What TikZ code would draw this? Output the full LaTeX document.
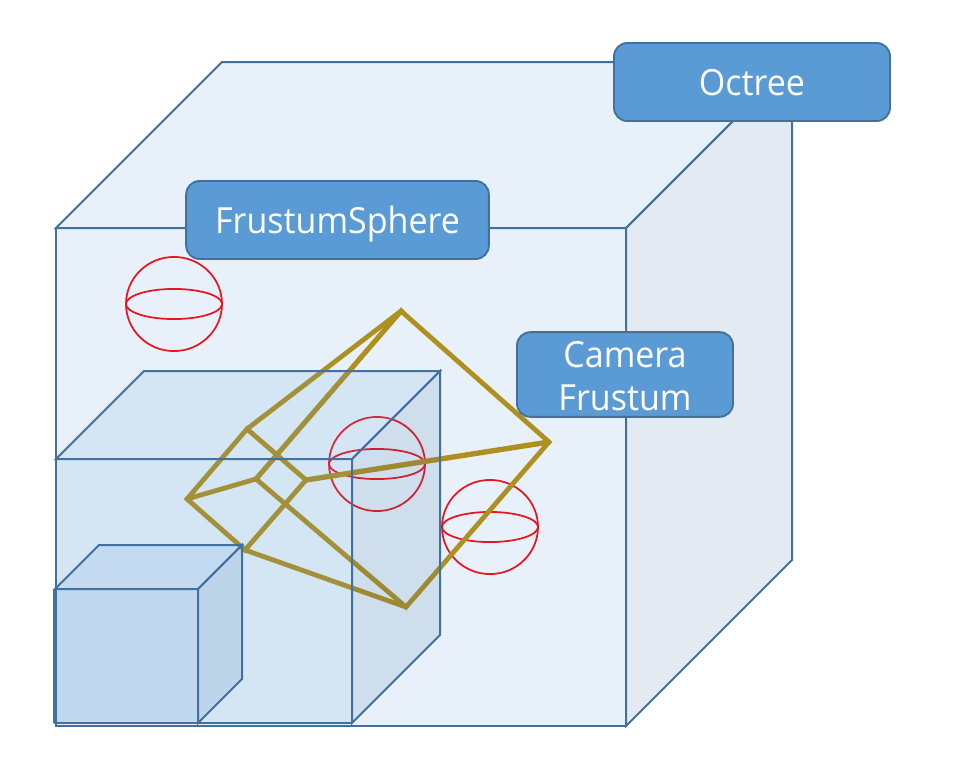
\documentclass[tikz,border=0pt]{standalone}
\usepackage{fontspec}
\setmainfont{Open Sans}[FakeStretch=0.945]
\usetikzlibrary{positioning}
\definecolor{steel}{HTML}{41719C}
\definecolor{sky}{HTML}{5B9BD5}
\definecolor{shade}{HTML}{3769A2}
\definecolor{olive}{HTML}{AE9020}
\definecolor{ballred}{HTML}{E8141E}
\tikzset{
  edge/.style={draw=steel,line width=1.5pt,line join=miter},
  face/.style={edge,fill=#1,fill opacity=0.14},
  face/.default=sky,
  frame/.style={draw=olive,line width=3.6pt,line join=miter},
  label/.style={draw=steel,fill=sky,line width=1.4pt,rounded corners=10pt,text=white,
    inner sep=0pt,align=center,font=\fontsize{27}{32.5}\selectfont},
  % pictograms
  pics/ball/.style={code={
    \draw[ballred,line width=1.3pt] (0,0) ellipse (36pt and 35.3pt);
    \draw[ballred,line width=1.3pt] (0,0) ellipse (36pt and 11.3pt);
  }},
}
\begin{document}
\begin{tikzpicture}[x=0.75pt,y=-0.75pt]
  \useasboundingbox (0,0) rectangle (956,778);
  % big cube
  \coordinate (ba) at (56,228);
  \coordinate (bb) at (626,228);
  \coordinate (bc) at (626,726);
  \coordinate (bd) at (56,726);
  \coordinate (be) at (222,62);
  \coordinate (bf) at (792,62);
  \coordinate (bg) at (792,560);
  \draw[face] (ba) -- (be) -- (bf) -- (bb) -- cycle;
  \draw[face] (ba) -- (bb) -- (bc) -- (bd) -- cycle;
  \draw[face=shade] (bb) -- (bf) -- (bg) -- (bc) -- cycle;
  % spheres
  \pic at (174,304) {ball};
  \pic at (377,464) {ball};
  \pic at (490,527) {ball};
  % frustum
  \coordinate (nt) at (247,429);
  \coordinate (nr) at (306,480);
  \coordinate (nb) at (245,550);
  \coordinate (nl) at (187,499);
  \coordinate (ft) at (401,311);
  \coordinate (fr) at (549,442);
  \coordinate (fb) at (406,607);
  \coordinate (fl) at (256,479);
  \draw[frame] (nt) -- (nr) -- (nb) -- (nl) -- cycle;
  \draw[frame] (ft) -- (fr) -- (fb) -- (fl) -- cycle;
  \draw[frame,shorten >=-2pt] (fl) -- (ft);
  \draw[frame] (nt) -- (ft) (nb) -- (fb) (nl) -- (fl);
  \draw[frame,line width=4pt] (nr) -- (fr);
  % middle cube
  \coordinate (ma) at (56,459);
  \coordinate (mb) at (352,459);
  \coordinate (mc) at (352,723);
  \coordinate (md) at (56,723);
  \coordinate (me) at (144,371);
  \coordinate (mf) at (440,371);
  \coordinate (mg) at (440,635);
  \draw[face] (ma) -- (me) -- (mf) -- (mb) -- cycle;
  \draw[face] (ma) -- (mb) -- (mc) -- (md) -- cycle;
  \draw[face=shade] (mb) -- (mf) -- (mg) -- (mc) -- cycle;
  % small cube
  \coordinate (sa) at (55,589);
  \coordinate (sb) at (198,589);
  \coordinate (sc) at (198,723);
  \coordinate (sd) at (55,723);
  \coordinate (se) at (99,545);
  \coordinate (sf) at (242,545);
  \coordinate (sg) at (242,679);
  \draw[face] (sa) -- (se) -- (sf) -- (sb) -- cycle;
  \draw[face,fill opacity=0.17] (sa) -- (sb) -- (sc) -- (sd) -- cycle;
  \draw[face=shade] (sb) -- (sf) -- (sg) -- (sc) -- cycle;
  \draw[edge,line width=2.4pt] (sa) -- (sd);
  % labels
  \node[label,minimum width=207pt,minimum height=58.5pt,text height=23pt,text depth=3.5pt] (octree) at (752,82) {Octree};
  \node[label,minimum width=227pt,minimum height=58.5pt,text height=23pt,text depth=3.5pt] (sphere) at (337.5,220) {FrustumSphere};
  \node[label,minimum width=162pt,minimum height=63.5pt] (camera) at (625,374.5) {\rule{0pt}{22.5pt}Camera\\Frustum};
\end{tikzpicture}
\end{document}
